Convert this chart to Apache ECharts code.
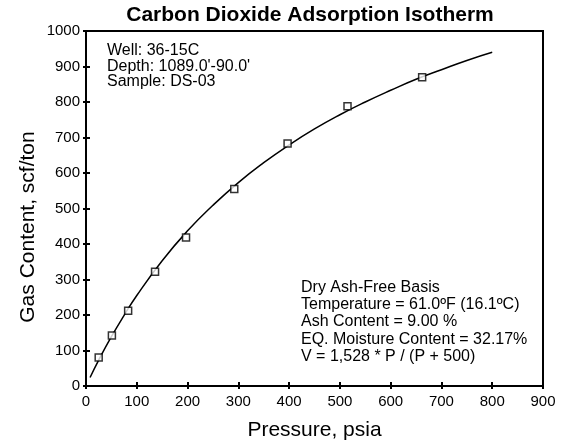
<!DOCTYPE html>
<html><head><meta charset="utf-8">
<script src="https://cdn.jsdelivr.net/npm/echarts@6/dist/echarts.min.js"></script>
<style>html,body{margin:0;padding:0;background:#fff}#c{width:569px;height:446px}</style>
</head><body><div id="c"></div>
<script>
var pressureMeasured = [25, 51, 83, 136, 197, 292, 397, 515, 662];
var gasMeasured = [80, 142, 212, 322, 418, 555, 683, 788, 870];
var pressureCurve = [8, 25, 50, 75, 100, 150, 200, 250, 300, 350, 400, 450, 500, 550, 600, 650, 700, 750, 800];
var gasCurve = [24, 73, 139, 199, 255, 353, 437, 509, 573, 629, 679, 724, 764, 800, 833, 864, 891, 917, 940];
var xTicks = [0, 100, 200, 300, 400, 500, 600, 700, 800, 900];
var yTicks = [0, 100, 200, 300, 400, 500, 600, 700, 800, 900, 1000];
var titleText = 'Carbon Dioxide Adsorption Isotherm';
var xName = 'Pressure, psia';
var yName = 'Gas Content, scf/ton';
var infoTopLeft = ['Well: 36-15C', "Depth: 1089.0'-90.0'", 'Sample: DS-03'];
var infoBottomRight = ['Dry Ash-Free Basis', 'Temperature = 61.0ºF (16.1ºC)', 'Ash Content = 9.00 %', 'EQ. Moisture Content = 32.17%', 'V = 1,528 * P / (P + 500)'];

var font = 'Liberation Sans, Arial, sans-serif';
function pairs(a, b) { return a.map(function (v, i) { return [v, b[i]]; }); }

var chart = echarts.init(document.getElementById('c'));
var axisCommon = {
  type: 'value', min: 0,
  axisLine: { show: true, lineStyle: { color: '#000', width: 2 } },
  splitLine: { show: false }
};
chart.setOption({
  animation: false,
  backgroundColor: '#fff',
  title: { text: titleText, left: 305, textAlign: 'center', top: 0,
    textStyle: { fontFamily: font, fontWeight: 'bold', fontSize: 21, color: '#000' } },
  grid: { left: 86, right: 26, top: 31, bottom: 60, show: true, borderColor: '#000', borderWidth: 2, backgroundColor: 'transparent' },
  xAxis: [
    Object.assign({}, axisCommon, { max: xTicks[xTicks.length - 1], interval: 100, position: 'bottom',
      name: xName, nameLocation: 'middle', nameGap: 34,
      nameTextStyle: { fontFamily: font, fontSize: 21, color: '#000' },
      axisTick: { show: true, length: 3, lineStyle: { color: '#000', width: 2 } },
      axisLabel: { fontFamily: font, fontSize: 15, color: '#000', margin: 8, formatter: function (v) { return String(v); } } }),
    Object.assign({}, axisCommon, { max: xTicks[xTicks.length - 1], interval: 100, position: 'bottom',
      axisTick: { show: true, inside: true, length: 4, lineStyle: { color: '#000', width: 2 } },
      axisLabel: { show: false } })
  ],
  yAxis: [
    Object.assign({}, axisCommon, { max: yTicks[yTicks.length - 1], interval: 100, position: 'left',
      axisTick: { show: true, length: 3, lineStyle: { color: '#000', width: 2 } },
      axisLabel: { fontFamily: font, fontSize: 15, color: '#000', margin: 6, formatter: function (v) { return String(v); } } }),
    Object.assign({}, axisCommon, { max: yTicks[yTicks.length - 1], interval: 100, position: 'left',
      axisTick: { show: true, inside: true, length: 4, lineStyle: { color: '#000', width: 2 } },
      axisLabel: { show: false } })
  ],
  series: [
    { type: 'line', data: pairs(pressureCurve, gasCurve), smooth: true, showSymbol: false,
      lineStyle: { color: '#000', width: 1.5 }, z: 2 },
    { type: 'scatter', data: pairs(pressureMeasured, gasMeasured), symbol: 'rect', symbolSize: 7,
      itemStyle: { color: '#fff', borderColor: '#000', borderWidth: 1.5 }, z: 3 }
  ],
  graphic: [
    { type: 'text', x: 28, y: 227, rotation: Math.PI / 2,
      style: { text: yName, fontFamily: font, fontSize: 21, fill: '#000', align: 'center', verticalAlign: 'middle' } },
    { type: 'text', left: 107, top: 43, style: { text: infoTopLeft.join('\n'), fontFamily: font, fontSize: 16, lineHeight: 15.5, fill: '#000' } },
    { type: 'text', left: 301, top: 279, style: { text: infoBottomRight.join('\n'), fontFamily: font, fontSize: 16, lineHeight: 17.2, fill: '#000' } }
  ]
});
</script></body></html>
